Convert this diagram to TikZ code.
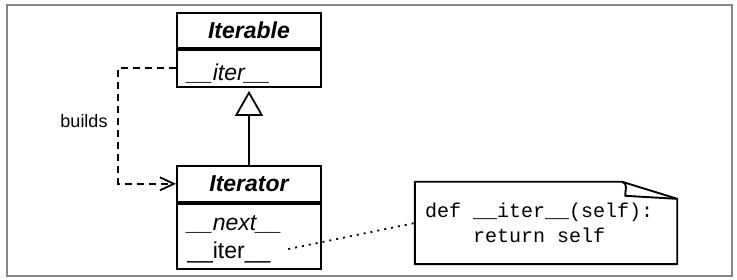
\documentclass[tikz,border=0pt]{standalone}
\usepackage{fontspec}
\setmainfont{Liberation Sans}
\setmonofont{Liberation Mono}
\usetikzlibrary{positioning}
\usetikzlibrary{calc}
\usetikzlibrary{arrows.meta}

\tikzset{
    frame/.style={draw=black!47, line width=1.8pt},
    classhead/.style={draw, line width=1.9pt, minimum width=144pt, inner sep=0pt, font=\fontsize{23}{27}\selectfont\bfseries\itshape},
    classbody/.style={draw, line width=1.9pt, minimum width=144pt, inner sep=0pt},
    member/.style={anchor=west, inner sep=0pt, font=\fontsize{23}{27}\selectfont},
    inherit/.style={line width=1.8pt, -{Triangle[open, length=25pt, width=28pt]}, shorten >=3pt},
    builds/.style={line width=1.8pt, dash pattern=on 7pt off 5pt, -{Straight Barb[length=14pt, width=13pt]}},
    comment/.style={line width=1.8pt, dash pattern=on 2pt off 5pt},
    noteline/.style={line width=1.9pt, line join=round},
    codetext/.style={inner sep=0pt, align=left, font=\fontsize{20}{25}\selectfont\ttfamily},
}

\begin{document}
\begin{tikzpicture}[x=1pt, y=-1pt]
    \useasboundingbox (0,0) rectangle (737,280);
    \draw[frame] (7,5) rectangle (732,276);

    % classes
    \node[classhead, minimum height=35pt] (iterable) at (249,30.5) {Iterable};
    \node[classbody, minimum height=37pt, below=0pt of iterable] (iterablebody) {};
    \node[classhead, minimum height=36pt, below=77pt of iterablebody] (iterator) {Iterator};
    \node[classbody, minimum height=65pt, below=0pt of iterator] (iteratorbody) {};

    \node[member] (iterableiter) at ($(iterablebody.west)+(11,5)$) {\itshape\_\_iter\_\_};
    \node[member] (iteratornext) at ($(iteratorbody.west)+(11,-11.5)$) {\itshape\_\_next\_\_};
    \node[member] (iteratoriter) at ($(iteratorbody.west)+(11,16.5)$) {\_\_iter\_\_};

    \draw[inherit] (iterator) -- (iterablebody);
    \draw[builds] (iterablebody.west) -- ++(-58,0) |- (iterator.west);
    \node[inner sep=0pt, font=\fontsize{18}{22}\selectfont] (buildslabel) at (84,121) {builds};

    % note
    \node[minimum width=262pt, minimum height=82pt, inner sep=0pt] (note) at (546,223) {};
    \draw[noteline] (note.north west) -- ($(note.north east)+(-55,0)$) -- ($(note.north east)+(0,17)$)
        -- (note.south east) -- (note.south west) -- cycle;
    \draw[noteline] ($(note.north east)+(-55,0)$) .. controls ($(note.north east)+(-49,2)$) and ($(note.north east)+(-52,8)$) .. ($(note.north east)+(-52,14)$)
        -- ($(note.north east)+(-1,17)$);
    \node[codetext, right=10pt of note.west] (code) {def \_\_iter\_\_(self):\\\phantom{def\ }return self};

    \draw[comment, shorten <=18pt] (iteratoriter.east) -- (note.west);
\end{tikzpicture}
\end{document}
